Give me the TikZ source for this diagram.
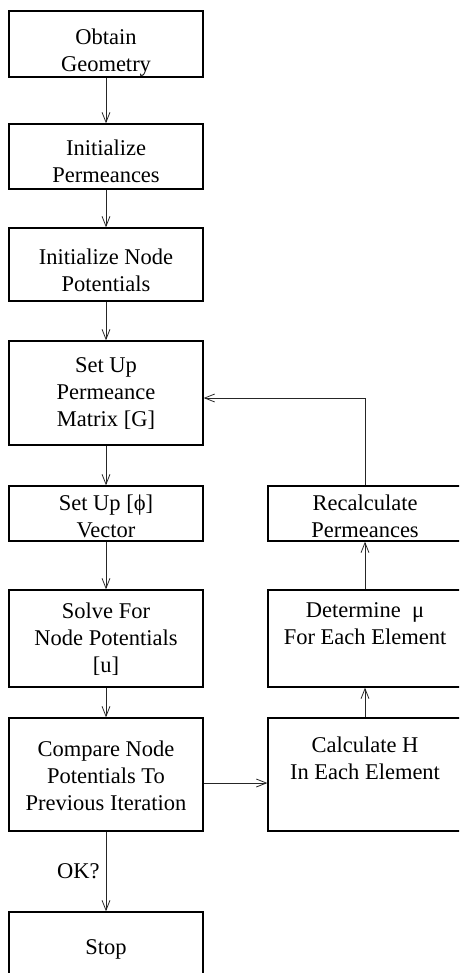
\documentclass[tikz,border=0pt]{standalone}
\usepackage{fontspec}
\setmainfont{Liberation Serif}
\usetikzlibrary{arrows.meta}
\begin{document}
\begin{tikzpicture}[x=1pt,y=-1pt,
  box/.style={draw=black, line width=1.3pt, minimum width=194pt, inner sep=0pt},
  txt/.style={font=\fontsize{22.5}{27}\selectfont, align=center, inner sep=0pt},
  arr/.style={draw=black!85, line width=0.8pt, -{Straight Barb[length=10pt,width=8pt]}},
  lbl/.style={font=\fontsize{22.5}{27}\selectfont, inner sep=0pt}]
\useasboundingbox (0,0) rectangle (459,973);
\clip (0,0) rectangle (459,973);
\node[box, minimum height=66pt,  label={[txt,yshift=-9pt]center:{Obtain\\Geometry}}] (b1) at (106,44) {};
\node[box, minimum height=65pt,  label={[txt,yshift=-5pt]center:{Initialize\\Permeances}}] (b2) at (106,156.5) {};
\node[box, minimum height=73pt,  label={[txt,yshift=-5.5pt]center:{Initialize Node\\Potentials}}] (b3) at (106,264.5) {};
\node[box, minimum height=104pt, label={[txt,yshift=-1pt]center:{Set Up\\Permeance\\Matrix [G]}}] (b4) at (106,393) {};
\node[box, minimum height=55pt,  label={[txt,yshift=-2.5pt]center:{Set Up [ϕ]\\Vector}}] (b5) at (106,513.5) {};
\node[box, minimum height=97pt,  label={[txt,yshift=-1pt]center:{Solve For\\Node Potentials\\{}[u]}}] (b6) at (106,638.5) {};
\node[box, minimum height=113pt, label={[txt,yshift=-1.5pt]center:{Compare Node\\Potentials To\\Previous Iteration}}] (b7) at (106,774.5) {};
\node[box, minimum height=78pt,  label={[txt,yshift=2pt]center:{Stop}}] (stop) at (106,951) {};
\node[box, minimum height=55pt,  label={[txt,yshift=-3pt]center:{Recalculate\\Permeances}}] (r1) at (365,513.5) {};
\node[box, minimum height=97pt,  label={[txt,yshift=14.5pt]center:{Determine\ \ μ\\For Each Element}}] (r2) at (365,638.5) {};
\node[box, minimum height=113pt, label={[txt,yshift=16pt]center:{Calculate H\\In Each Element}}] (r3) at (365,774.5) {};
\draw[arr] (b1) -- (b2);
\draw[arr] (b2) -- (b3);
\draw[arr] (b3) -- (b4);
\draw[arr] (b4) -- (b5);
\draw[arr] (b5) -- (b6);
\draw[arr] (b6) -- (b7);
\draw[arr] (b7) -- node[lbl, left=6pt, pos=0.5] (ok) {OK?} (stop);
\draw[arr] ([yshift=-8.5pt]b7.east) -- ([yshift=-8.5pt]r3.west);
\draw[arr] (r3) -- (r2);
\draw[arr] (r2) -- (r1);
\draw[arr] (r1.north) |- ([yshift=-5pt]b4.east);
\end{tikzpicture}
\end{document}
